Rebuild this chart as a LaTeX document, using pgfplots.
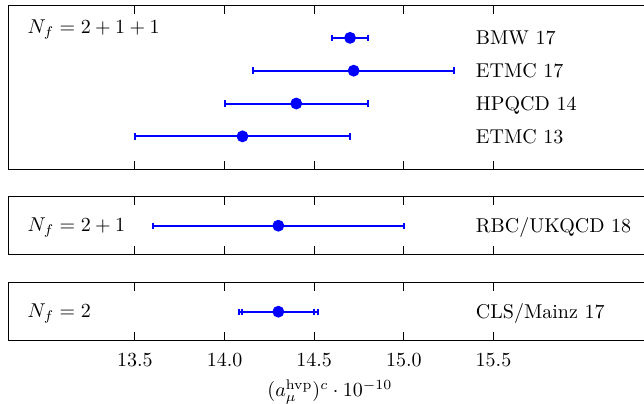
\documentclass[border=0pt]{standalone}
\usepackage{pgfplots}
\pgfplotsset{compat=1.18}
\tikzset{
  lab/.style={anchor=base west, inner sep=0pt, yshift=-3.4pt},
  nf/.style={anchor=base west, inner sep=0pt},
}
\begin{document}
\begin{tikzpicture}
\path[use as bounding box] (0,0) rectangle (322pt,-201.5pt);
\pgfplotsset{
  panel/.style={
    scale only axis, width=321.4pt, xmin=12.795, xmax=16.38,
    xtick={13.5,14,14.5,15,15.5}, ytick=\empty, xticklabels={},
    tick align=inside, xtick pos=both,
    axis line style={line width=0.5pt},
    major tick style={black, line width=0.5pt},
    anchor=north west, clip=false,
  },
  bar/.style={blue, line width=1pt, mark=|, mark size=1.6pt,
    mark options={blue, solid, line width=1pt}},
  pt/.style={only marks, mark=*, mark size=2.75pt,
    mark options={draw=blue, fill=blue, line width=0.4pt}},
}
% top panel
\begin{axis}[panel, at={(4.25pt,-2.5pt)}, height=82.1pt, ymin=0, ymax=5]
% error bars: value - error, value + error
\addplot[bar] coordinates {(14.60,4) (14.80,4)}; % BMW 17: 14.70 +- 0.10
\addplot[bar] coordinates {(14.16,3) (15.28,3)}; % ETMC 17: 14.72 +- 0.56
\addplot[bar] coordinates {(14.00,2) (14.80,2)}; % HPQCD 14: 14.40 +- 0.40
\addplot[bar] coordinates {(13.50,1) (14.70,1)}; % ETMC 13: 14.10 +- 0.60
\addplot[pt] coordinates {(14.70,4) (14.72,3) (14.40,2) (14.10,1)};
\node[nf] at (axis cs:12.9,4.12) {$N_f = 2+1+1$};
\node[lab] at (axis cs:15.4,4) {BMW 17};
\node[lab] at (axis cs:15.4,3) {ETMC 17};
\node[lab] at (axis cs:15.4,2) {HPQCD 14};
\node[lab] at (axis cs:15.4,1) {ETMC 13};
\end{axis}
% middle panel
\begin{axis}[panel, at={(4.25pt,-98.35pt)}, height=29pt, ymin=0, ymax=1]
\addplot[bar] coordinates {(13.60,0.5) (15.00,0.5)}; % RBC/UKQCD 18: 14.30 +- 0.70
\addplot[pt] coordinates {(14.30,0.5)};
\node[nf, yshift=-3pt] at (axis cs:12.9,0.5) {$N_f = 2+1$};
\node[lab] at (axis cs:15.4,0.5) {RBC/UKQCD 18};
\end{axis}
% bottom panel
\begin{axis}[panel, at={(4.25pt,-141.35pt)}, height=29pt, ymin=0, ymax=1,
  xticklabels={13.5,14.0,14.5,15.0,15.5},
  xticklabel style={anchor=base, yshift=-13pt},
  xlabel={$(a_\mu^{\mathrm{hvp}})^c \cdot 10^{-10}$},
  xlabel style={at={(axis description cs:0.5,0)}, anchor=base, yshift=-28pt}]
\addplot[bar] coordinates {(14.08,0.5) (14.52,0.5)}; % CLS/Mainz 17: 14.30 +- 0.22
\addplot[bar] coordinates {(14.10,0.5) (14.50,0.5)}; % 14.30 +- 0.20
\addplot[pt] coordinates {(14.30,0.5)};
\node[nf, yshift=-3pt] at (axis cs:12.9,0.5) {$N_f = 2$};
\node[lab] at (axis cs:15.4,0.5) {CLS/Mainz 17};
\end{axis}
\end{tikzpicture}
\end{document}
